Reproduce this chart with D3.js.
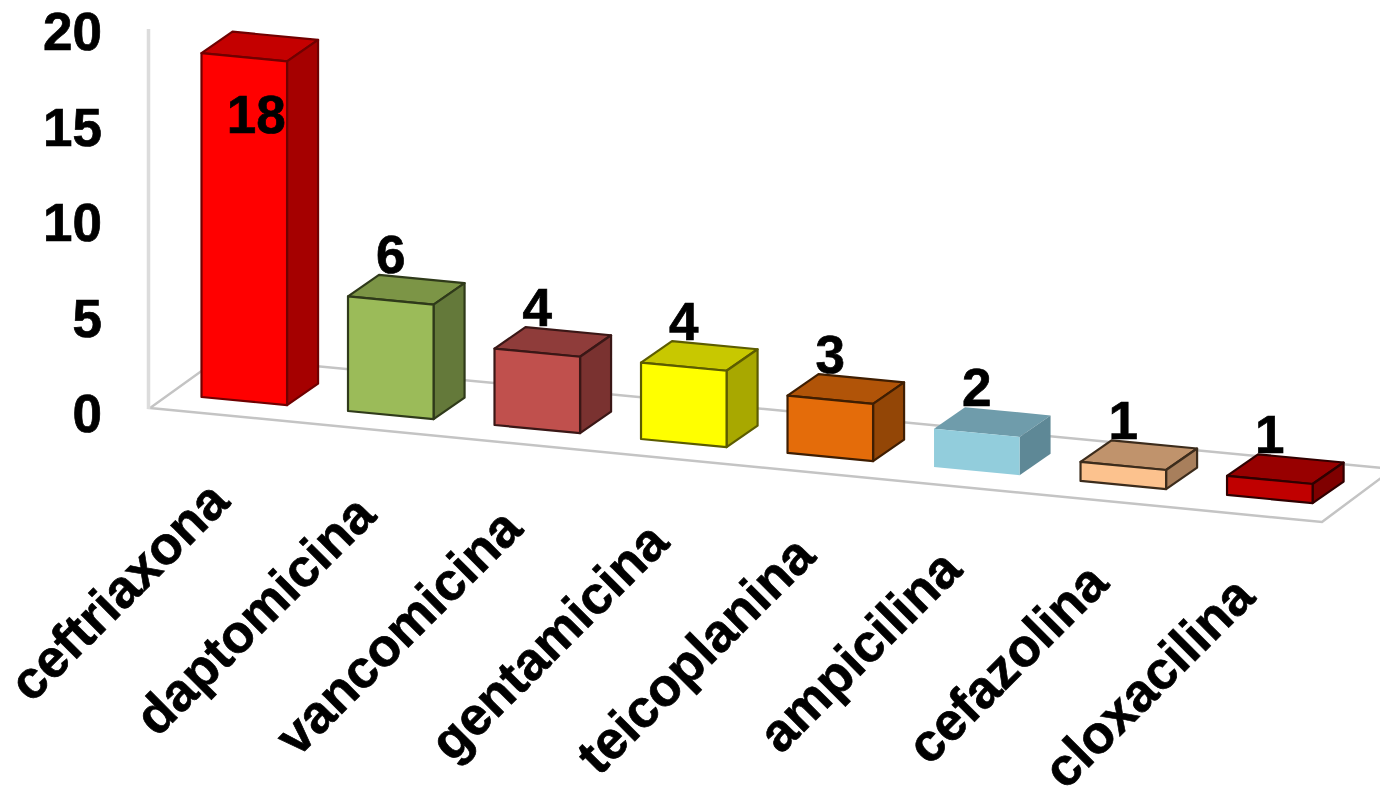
<!DOCTYPE html>
<html>
<head>
<meta charset="utf-8">
<title>Antibióticos</title>
<script src="https://cdn.jsdelivr.net/npm/d3@7/dist/d3.min.js"></script>
<style>
  html, body { margin: 0; padding: 0; background: #fff; }
  svg { display: block; }
  text { font-family: "Liberation Sans", Arial, sans-serif; font-weight: bold; fill: #000; stroke: #000; stroke-width: 0.7px; }
</style>
</head>
<body>
<svg id="chart" width="1380" height="789"></svg>
<script>
// Antibiotic counts, one 3D column per drug
const categories = ["ceftriaxona", "daptomicina", "vancomicina", "gentamicina",
                    "teicoplanina", "ampicilina", "cefazolina", "cloxacilina"];
const counts = [18, 6, 4, 4, 3, 2, 1, 1];
const frontColors = ["#ff0000", "#9bbb59", "#c0504d", "#ffff00", "#e46c0a", "#92cddc", "#fcc28e", "#c00000"];
const topColors   = ["#c40000", "#7c9546", "#8f3c3a", "#c8c800", "#b15408", "#6f9cab", "#c0936c", "#980000"];
const sideColors  = ["#a50000", "#64793a", "#7a3230", "#a8a800", "#934606", "#5e8896", "#a87f5c", "#7f0000"];
const edgeColors  = ["#700000", "#2f3a1a", "#3a1716", "#5c5c00", "#3f1e02", "none", "#3c2c1c", "#300000"];
const yTicks = [0, 5, 10, 15, 20];

const svg = d3.select("#chart");

// Value scale for the vertical axis and for column heights
const y = d3.scaleLinear().domain([0, 20]).range([413, 31]);
const unitHeight = v => y(0) - y(v);

// Category positions along the front of the columns
const x = d3.scaleBand().domain(categories).range([201.5, 1312.6]).paddingInner(0.416).paddingOuter(0);

// The oblique projection: the floor falls to the right, depth runs up and to the right
const floorSlope = 0.0955;
const baseY = px => 397 + (px - 201.5) * floorSlope;
const depth = { dx: 31, dy: -21.5 };

// Floor outline and vertical wall edge
const gridColor = "#c4c4c4";
svg.append("path")
  .attr("d", "M150,408 L1322,522 L1393,469 L221,357 Z")
  .attr("fill", "#fff")
  .attr("stroke", gridColor)
  .attr("stroke-width", 2.5);
svg.append("line")
  .attr("x1", 148.5).attr("x2", 148.5)
  .attr("y1", 29).attr("y2", 409)
  .attr("stroke", "#dcdcdc")
  .attr("stroke-width", 3.5);

// Vertical axis labels
const yAxis = d3.axisLeft(y).tickValues(yTicks).tickSize(0).tickPadding(0);
const yG = svg.append("g").attr("transform", "translate(102,0)").call(yAxis);
yG.select(".domain").remove();
yG.selectAll("text").attr("font-size", 53).attr("dy", "0.35em")
  .style("font-family", '"Liberation Sans", Arial, sans-serif').style("font-weight", "bold");

// One box per category: front, top and side faces
const bars = svg.append("g").selectAll("g")
  .data(categories.map((name, i) => ({ name, value: counts[i], i })))
  .join("g");

const pts = a => a.map(p => p.join(",")).join(" ");

bars.each(function (d) {
  const g = d3.select(this);
  const xl = x(d.name), xr = xl + x.bandwidth();
  const h = unitHeight(d.value);
  const bl = [xl, baseY(xl)], br = [xr, baseY(xr)];
  const tl = [xl, baseY(xl) - h], tr = [xr, baseY(xr) - h];
  const back = p => [p[0] + depth.dx, p[1] + depth.dy];
  const stroke = edgeColors[d.i];
  const faces = [
    { p: [tl, tr, back(tr), back(tl)], fill: topColors[d.i] },
    { p: [tr, br, back(br), back(tr)], fill: sideColors[d.i] },
    { p: [tl, tr, br, bl], fill: frontColors[d.i] }
  ];
  g.selectAll("polygon").data(faces).join("polygon")
    .attr("points", f => pts(f.p))
    .attr("fill", f => f.fill)
    .attr("stroke", stroke)
    .attr("stroke-width", 2.2)
    .attr("stroke-linejoin", "round");
});

// Value labels: above the box, or inside when the column is tall
bars.append("text")
  .attr("text-anchor", "middle")
  .attr("font-size", 53)
  .attr("x", d => x(d.name) + x.bandwidth() / 2 + (d.value > 10 ? 12 : 0))
  .attr("y", d => {
    const top = baseY(x(d.name)) - unitHeight(d.value);
    return d.value > 10 ? top + 80 : top - 23;
  })
  .text(d => d.value);

// Slanted category labels
svg.append("g").selectAll("text")
  .data(categories)
  .join("text")
  .attr("text-anchor", "end")
  .attr("font-size", 53)
  .attr("transform", d => `translate(${x(d) + 30},${504 + (x(d) - 201.5) * 0.0929}) rotate(-45)`)
  .text(d => d);
</script>
</body>
</html>
